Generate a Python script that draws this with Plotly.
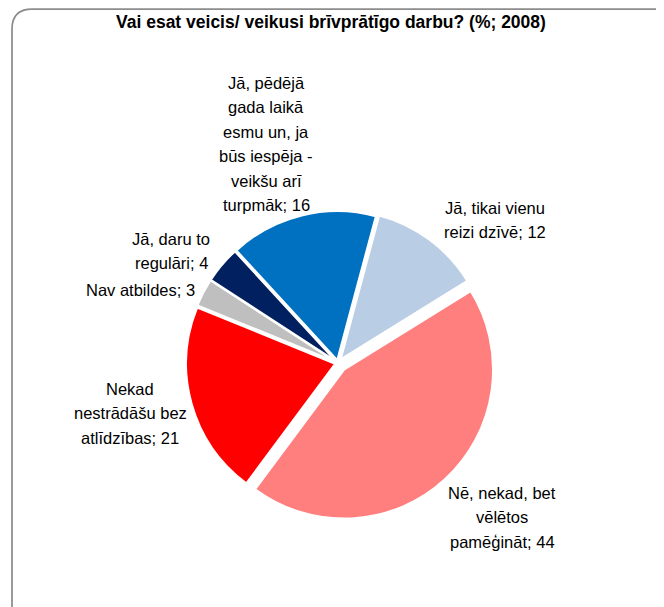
import plotly.graph_objects as go

# ---- data ----
categories = [
    "Jā, tikai vienu reizi dzīvē",
    "Nē, nekad, bet vēlētos pamēģināt",
    "Nekad nestrādāšu bez atlīdzības",
    "Nav atbildes",
    "Jā, daru to regulāri",
    "Jā, pēdējā gada laikā esmu un, ja būs iespēja - veikšu arī turpmāk",
]
values = [12, 44, 21, 3, 4, 16]
wrapped_labels = [
    ["Jā, tikai vienu", "reizi dzīvē"],
    ["Nē, nekad, bet", "vēlētos", "pamēģināt"],
    ["Nekad", "nestrādāšu bez", "atlīdzības"],
    ["Nav atbildes"],
    ["Jā, daru to", "regulāri"],
    ["Jā, pēdējā", "gada laikā", "esmu un, ja", "būs iespēja -", "veikšu arī", "turpmāk"],
]
title_text = "Vai esat veicis/ veikusi brīvprātīgo darbu? (%; 2008)"

# ---- styling / layout ----
colors = ["#B9CDE5", "#FF7F7F", "#FF0000", "#BFBFBF", "#002060", "#0070C0"]
pulls = [0.03, 0.06, 0.02, 0.02, 0.02, 0.02]
OFF = 8                      # page body margin
W, H = 664 - OFF, 607 - OFF  # figure size fits the window
label_pos_px = [(495, 220), (502, 517), (130, 413), (140, 290), (171, 251), (266, 144)]
LINE_H = 24.5

cx, cy, R = 338, 363, 149    # screen coordinates
half = R * (1 + max(pulls))

def px(x):
    return (x - OFF) / W

def py(y):
    return 1 - (y - OFF) / H

fig = go.Figure(go.Pie(
    labels=categories,
    values=values,
    sort=False,
    direction="clockwise",
    rotation=15,
    pull=pulls,
    marker=dict(colors=colors, line=dict(color="white", width=2)),
    textinfo="none",
    hoverinfo="label+value",
    domain=dict(x=[px(cx - half), px(cx + half)], y=[py(cy + half), py(cy - half)]),
    showlegend=False,
))

font_family = "Liberation Sans, Arial, sans-serif"
label_font = dict(family=font_family, size=16.5, color="#000000")
annotations = []
for lines, v, (lx, ly) in zip(wrapped_labels, values, label_pos_px):
    lines = lines[:-1] + [f"{lines[-1]}; {v}"]
    n = len(lines)
    for i, line in enumerate(lines):
        yy = ly + (i - (n - 1) / 2) * LINE_H
        annotations.append(dict(
            x=px(lx), y=py(yy), xref="paper", yref="paper",
            text=line, showarrow=False, align="center",
            xanchor="center", yanchor="middle", font=label_font,
        ))
annotations.append(dict(
    x=px(331), y=py(22), xref="paper", yref="paper",
    text=f"<b>{title_text}</b>", showarrow=False,
    xanchor="center", yanchor="middle",
    font=dict(family=font_family, size=17.5, color="#000000"),
))

# rounded border frame (screen coordinates)
r = 20
x0, y0, x1, y1 = 12, 9, 684, 627
path = (f"M {px(x0)},{py(y1 - r)} L {px(x0)},{py(y0 + r)} "
        f"Q {px(x0)},{py(y0)} {px(x0 + r)},{py(y0)} "
        f"L {px(x1 - r)},{py(y0)} Q {px(x1)},{py(y0)} {px(x1)},{py(y0 + r)} "
        f"L {px(x1)},{py(y1 - r)} Q {px(x1)},{py(y1)} {px(x1 - r)},{py(y1)} "
        f"L {px(x0 + r)},{py(y1)} Q {px(x0)},{py(y1)} {px(x0)},{py(y1 - r)} Z")

fig.update_layout(
    width=W, height=H,
    margin=dict(l=0, r=0, t=0, b=0),
    paper_bgcolor="white",
    plot_bgcolor="white",
    annotations=annotations,
    shapes=[dict(type="path", path=path, xref="paper", yref="paper",
                 line=dict(color="#8C8C8C", width=1.75), layer="below")],
)

fig.write_html("out.html")
